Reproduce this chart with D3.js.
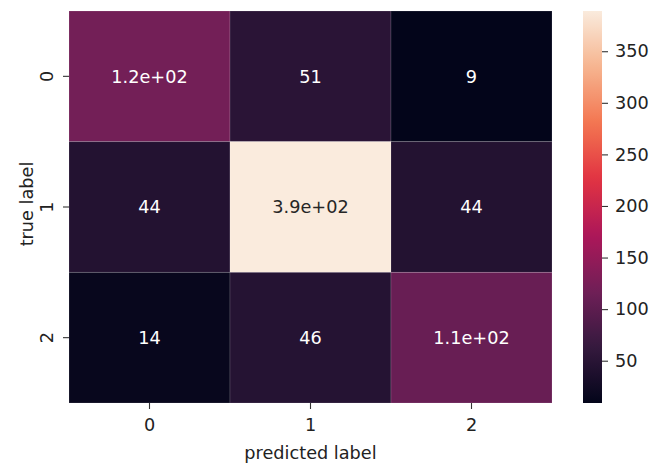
<!DOCTYPE html>
<html><head><meta charset="utf-8">
<script src="https://cdn.jsdelivr.net/npm/d3@7"></script>
<style>html,body{margin:0;padding:0;background:#fff;}svg{display:block;font-family:"DejaVu Sans",sans-serif;}</style>
</head><body>
<script>
const trueLabels = ["0", "1", "2"];
const predLabels = ["0", "1", "2"];
const row0 = [120, 51, 9];
const row1 = [44, 389, 44];
const row2 = [14, 46, 110];
const matrix = [row0, row1, row2];
const cbarTicks = [50, 100, 150, 200, 250, 300, 350];
const xTitle = "predicted label";
const yTitle = "true label";
// rocket colormap anchor colours
const rocketStops = ["#03051a", "#35193e", "#701f57", "#ad1759", "#e13342", "#f37651", "#f6b48f", "#faebdd"];

const W = 651, H = 463, FS = 17.7;
const hm = {left: 69, right: 552, top: 11, bottom: 403};
const cb = {left: 583, right: 602, top: 11, bottom: 403};

const svg = d3.select("body").append("svg").attr("width", W).attr("height", H);

const allVals = matrix.flat();
const vmin = d3.min(allVals), vmax = d3.max(allVals);
const rocket = d3.scaleLinear()
  .domain(rocketStops.map((d, i) => i / (rocketStops.length - 1)))
  .range(rocketStops).interpolate(d3.interpolateRgb).clamp(true);
const color = v => rocket((v - vmin) / (vmax - vmin));

const x = d3.scaleBand().domain(predLabels).range([hm.left, hm.right]);
const y = d3.scaleBand().domain(trueLabels).range([hm.top, hm.bottom]);

function fmt(v) {
  // mimic python ".2g"
  const e = Math.floor(Math.log10(Math.abs(v)));
  if (e >= 2) {
    const s = d3.format(".1e")(v); // e.g. 1.2e+2
    const [m, ex] = s.split("e");
    const sign = ex[0];
    const digits = ex.slice(1).padStart(2, "0");
    return m + "e" + sign + digits;
  }
  return d3.format(".2~r")(v);
}
function lum(c) {
  const rgb = d3.rgb(c);
  const f = u => { u /= 255; return u <= 0.03928 ? u / 12.92 : Math.pow((u + 0.055) / 1.055, 2.4); };
  return 0.2126 * f(rgb.r) + 0.7152 * f(rgb.g) + 0.0722 * f(rgb.b);
}

const cells = [];
matrix.forEach((row, i) => row.forEach((v, j) => cells.push({r: trueLabels[i], c: predLabels[j], v})));

svg.append("g").selectAll("rect").data(cells).join("rect")
  .attr("x", d => x(d.c)).attr("y", d => y(d.r))
  .attr("width", x.bandwidth()).attr("height", y.bandwidth())
  .attr("fill", d => color(d.v))
  .attr("stroke", "rgba(255,255,255,0.18)").attr("stroke-width", 0.8);

svg.append("g").selectAll("text").data(cells).join("text")
  .attr("x", d => x(d.c) + x.bandwidth() / 2)
  .attr("y", d => y(d.r) + y.bandwidth() / 2)
  .attr("dy", "0.36em")
  .attr("text-anchor", "middle")
  .attr("font-size", FS)
  .attr("fill", d => lum(color(d.v)) > 0.408 ? "#262626" : "#ffffff")
  .text(d => fmt(d.v));

// x axis
const xa = svg.append("g").attr("transform", `translate(0,${hm.bottom})`)
  .call(d3.axisBottom(x).tickSize(6).tickPadding(9));
xa.select(".domain").remove();
xa.selectAll("line").attr("stroke", "#333").attr("stroke-width", 1.1);
xa.selectAll("text").attr("font-size", FS).attr("fill", "#222").attr("font-family", "DejaVu Sans");

// y axis
const ya = svg.append("g").attr("transform", `translate(${hm.left},0)`)
  .call(d3.axisLeft(y).tickSize(6).tickPadding(0));
ya.select(".domain").remove();
ya.selectAll("line").attr("stroke", "#333").attr("stroke-width", 1.1);
ya.selectAll("text").attr("font-size", FS).attr("fill", "#222").attr("font-family", "DejaVu Sans")
  .attr("x", null).attr("dy", null).attr("text-anchor", "middle")
  .attr("transform", "translate(-16,0) rotate(-90)");

svg.append("text").attr("x", (hm.left + hm.right) / 2).attr("y", 459)
  .attr("text-anchor", "middle").attr("font-size", FS).attr("fill", "#222").text(xTitle);
svg.append("text").attr("transform", `translate(33,${(hm.top + hm.bottom) / 2 - 3}) rotate(-90)`)
  .attr("text-anchor", "middle").attr("font-size", FS).attr("fill", "#222").text(yTitle);

// colorbar
const cy = d3.scaleLinear().domain([vmin, vmax]).range([cb.bottom, cb.top]);
const grad = svg.append("defs").append("linearGradient").attr("id", "cbg")
  .attr("x1", 0).attr("y1", 1).attr("x2", 0).attr("y2", 0);
d3.range(0, 1.0001, 0.02).forEach(t => {
  grad.append("stop").attr("offset", t).attr("stop-color", rocket(t));
});
svg.append("rect").attr("x", cb.left).attr("y", cb.top)
  .attr("width", cb.right - cb.left).attr("height", cb.bottom - cb.top)
  .attr("fill", "url(#cbg)");
const ca = svg.append("g").attr("transform", `translate(${cb.right},0)`)
  .call(d3.axisRight(cy).tickValues(cbarTicks).tickSize(6).tickPadding(7));
ca.select(".domain").remove();
ca.selectAll("line").attr("stroke", "#333").attr("stroke-width", 1.1);
ca.selectAll("text").attr("font-size", FS).attr("fill", "#222").attr("font-family", "DejaVu Sans");
</script>
</body></html>
